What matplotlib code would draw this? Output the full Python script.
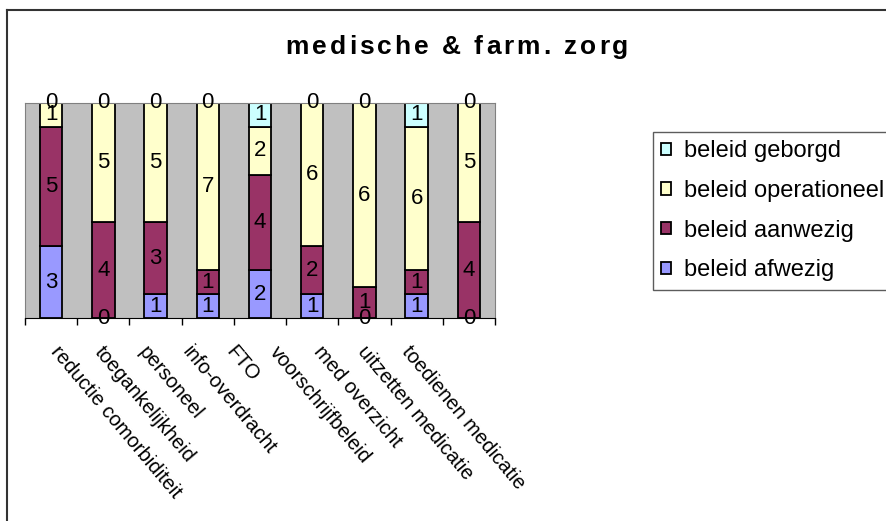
import numpy as np
import matplotlib
matplotlib.use("Agg")
import matplotlib.pyplot as plt
from matplotlib.lines import Line2D
import matplotlib.transforms as mtransforms

plt.rcParams['font.family'] = ['Liberation Sans', 'DejaVu Sans']

categories = ['reductie comorbiditeit', 'toegankelijkheid', 'personeel', 'info-overdracht',
              'FTO', 'voorschrijfbeleid', 'med overzicht', 'uitzetten medicatie',
              'toedienen medicatie']
series_names = ['beleid afwezig', 'beleid aanwezig', 'beleid operationeel', 'beleid geborgd']
afwezig = [3, 0, 1, 1, 2, 1, 0, 1, 0]
aanwezig = [5, 4, 3, 1, 4, 2, 1, 1, 4]
operationeel = [1, 5, 5, 7, 2, 6, 6, 6, 5]
geborgd = [0, 0, 0, 0, 1, 0, 0, 1, 0]
colors = ['#9999FF', '#993366', '#FFFFCC', '#CCFFFF']
title = 'medische & farm. zorg'

W, H = 887, 521


def tracked_text(fig, x, y, s, tracking, **kw):
    # draw text char by char with extra spacing (Excel-like letter spacing), centred on x
    r = fig.canvas.get_renderer()
    widths = []
    for ch in s:
        t = fig.text(0, 0, ch.replace(' ', 'n'), **kw)
        w = t.get_window_extent(renderer=r).width
        if ch == ' ':
            w *= 0.45
        widths.append(w)
        t.remove()
    total = sum(widths) + tracking * (len(s) - 1)
    px = x * W - total / 2
    for ch, w in zip(s, widths):
        fig.text(px / W, y, ch, ha='left', va='center', **kw)
        px += w + tracking


data = np.array([afwezig, aanwezig, operationeel, geborgd], dtype=float)
totals = data.sum(axis=0)
shares = data / totals

fig = plt.figure(figsize=(W / 100, H / 100), dpi=100)
# chart area border (right/bottom edges fall outside the picture)
fig.add_artist(Line2D([7 / W, 1.0], [1 - 10 / H, 1 - 10 / H], color='#333333', lw=1.5))
fig.add_artist(Line2D([7 / W, 7 / W], [0, 1 - 10 / H], color='#333333', lw=1.5))

ax = fig.add_axes([25 / W, 1 - 318 / H, 470 / W, 215 / H])
ax.set_facecolor('#C0C0C0')
x = np.arange(len(categories))
bottom = np.zeros(len(categories))
handles = []
for i, name in enumerate(series_names):
    b = ax.bar(x, shares[i], 0.43, bottom=bottom, color=colors[i],
               edgecolor='black', linewidth=1.3, label=name)
    handles.append(b)
    for j in range(len(categories)):
        y = bottom[j] + shares[i, j] / 2
        ax.text(x[j], y, str(int(data[i, j])), ha='center', va='center', fontsize=16,
                clip_on=False)
    bottom += shares[i]

ax.set_xlim(-0.5, len(categories) - 0.5)
ax.set_ylim(0, 1)
ax.set_yticks([])
ax.set_xticks(np.arange(len(categories) + 1) - 0.5)
ax.set_xticklabels([])
ax.tick_params(axis='x', direction='out', length=5, color='black', width=1)
for s in ['top', 'right', 'left']:
    ax.spines[s].set_color('#808080')
ax.spines['bottom'].set_color('black')

# rotated category labels; Excel packs their starts a bit tighter than the bars
trans = mtransforms.blended_transform_factory(ax.transData, ax.transAxes)
for j, cat in enumerate(categories):
    xs = x[j] * 0.84 + 0.2
    ax.text(xs, -0.115, cat, rotation=-50, rotation_mode='anchor',
            ha='left', va='top', fontsize=14.5, transform=trans)

tracked_text(fig, 457 / W, 1 - 47 / H, title, 3, fontsize=19, fontweight='bold')

leg = fig.legend(handles[::-1], series_names[::-1], loc='upper left',
                 bbox_to_anchor=(653 / W, 1 - 132 / H), fontsize=17,
                 frameon=True, fancybox=False, edgecolor='#333333',
                 handlelength=0.42, handleheight=0.42, handletextpad=0.55,
                 labelspacing=0.75, borderpad=0.35, borderaxespad=0)
leg.get_frame().set_linewidth(1.0)

fig.savefig('out.png', dpi=100)
